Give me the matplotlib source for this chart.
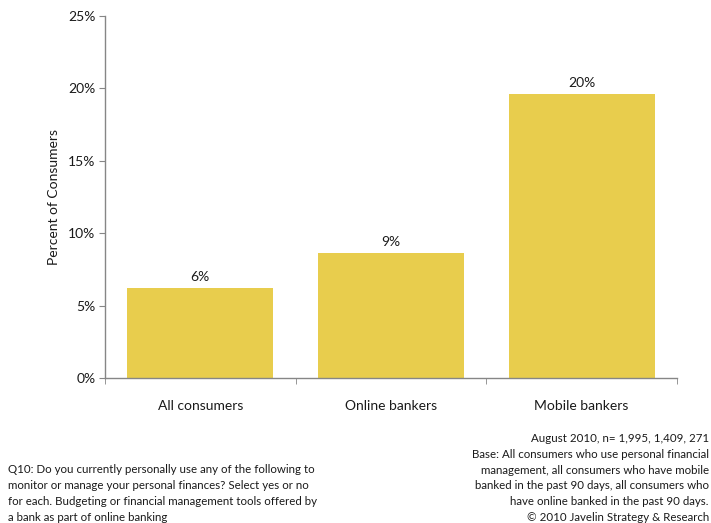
import matplotlib
matplotlib.use("Agg")
import matplotlib.pyplot as plt
from matplotlib.ticker import FuncFormatter

categories = ["All consumers", "Online bankers", "Mobile bankers"]
values = [6.2, 8.6, 19.6]
y_ticks = [0, 5, 10, 15, 20, 25]

bar_color = "#E8CD4D"
axis_color = "#868686"
text_color = "#1a1a1a"

plt.rcParams["font.family"] = ["Lato", "DejaVu Sans"]

fig = plt.figure(figsize=(7.11, 5.23), dpi=100)
ax = fig.add_axes([0.1477, 0.2772, 0.8043, 0.6922])

x = range(len(categories))
ax.bar(x, values, width=0.766, color=bar_color, zorder=2)

for xi, v in zip(x, values):
    ax.annotate(f"{v:.0f}%", (xi, v), xytext=(0, 4), textcoords="offset points",
                ha="center", va="bottom", fontsize=10, color=text_color)

ax.set_xlim(-0.5, len(categories) - 0.5)
ax.set_ylim(0, 25)
ax.set_yticks(y_ticks)
ax.yaxis.set_major_formatter(FuncFormatter(lambda v, p: f"{v:.0f}%"))
ax.set_xticks(list(x))
ax.set_xticklabels(categories, fontsize=10, color=text_color)
ax.set_xticks([-0.5, 0.5, 1.5, 2.5], minor=True)

for side in ("top", "right"):
    ax.spines[side].set_visible(False)
for side in ("left", "bottom"):
    ax.spines[side].set_color(axis_color)
    ax.spines[side].set_linewidth(1.0)

ax.tick_params(axis="y", direction="out", length=4, color=axis_color,
               labelsize=10, labelcolor=text_color, pad=3)
ax.tick_params(axis="x", which="major", length=0, pad=16)
ax.tick_params(axis="x", which="minor", direction="out", length=4, color=axis_color)

ax.set_ylabel("Percent of Consumers", fontsize=10, color=text_color, labelpad=6)

fig.text(0.011, 0.057, "Q10: Do you currently personally use any of the following to\n"
         "monitor or manage your personal finances? Select yes or no\n"
         "for each. Budgeting or financial management tools offered by\n"
         "a bank as part of online banking",
         ha="left", va="center", fontsize=8.3, color=text_color, linespacing=1.55)

fig.text(0.997, 0.086, "August 2010, n= 1,995, 1,409, 271\n"
         "Base: All consumers who use personal financial\n"
         "management, all consumers who have mobile\n"
         "banked in the past 90 days, all consumers who\n"
         "have online banked in the past 90 days.\n"
         "\u00a9 2010 Javelin Strategy & Research",
         ha="right", va="center", fontsize=8.3, color=text_color, linespacing=1.55)

fig.savefig("out.png", dpi=100)
